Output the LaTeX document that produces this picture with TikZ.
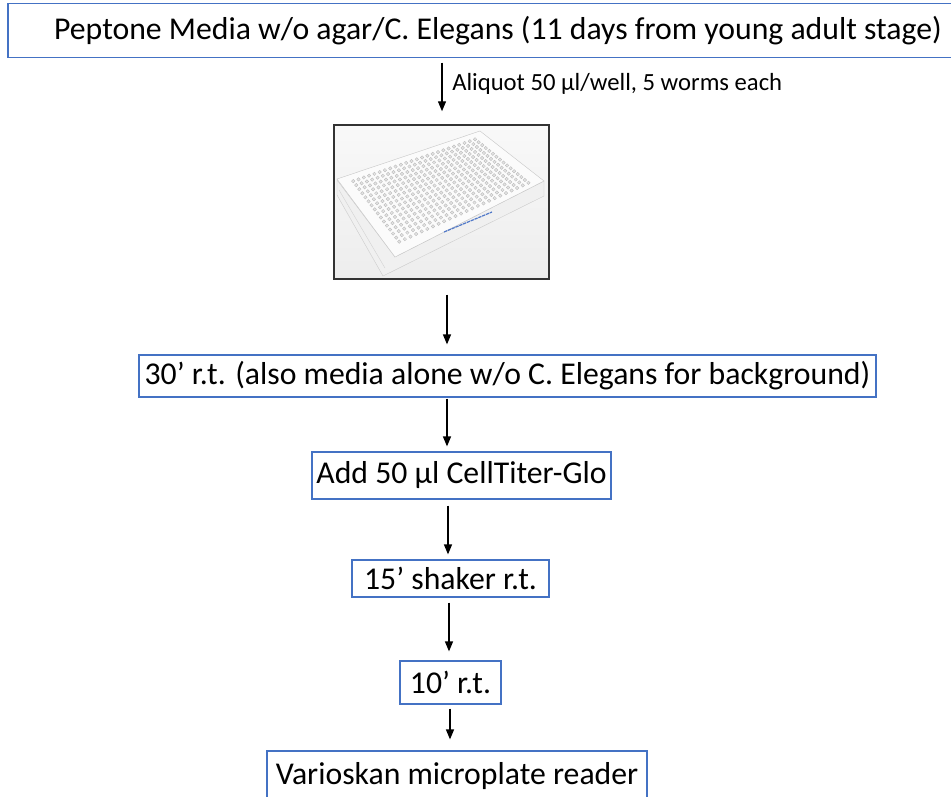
\documentclass[tikz,border=0pt]{standalone}
\usepackage{fontspec}
\setmainfont{Carlito}
\usetikzlibrary{arrows.meta}
\definecolor{boxblue}{RGB}{68,114,196}
\definecolor{labelblue}{RGB}{80,120,200}
\begin{document}
\begin{tikzpicture}[x=0.75pt,y=-0.75pt,
  flow/.style={draw=boxblue, line width=0.9pt, inner sep=0pt, text=black,
    font=\fontsize{23.8}{28}\selectfont},
  arr/.style={-{Triangle[length=7.5pt,width=6pt]}, line width=1pt, black},
  well/.style={fill=gray!22, draw=gray!55, line width=0.25pt}]
\useasboundingbox (0,0) rectangle (951,797);
\begin{scope}
\clip (0,0) rectangle (951,797);
% top box
\node[flow, minimum width=980*0.75pt, minimum height=54*0.75pt] (top) at (498,30.5)
  {Peptone Media w/o agar/C. Elegans (11 days from young adult stage)};
\node[anchor=base west, inner sep=0pt, font=\fontsize{18.5}{22}\selectfont] (lab) at (452,90)
  {Aliquot 50 µl/well, 5 worms each};
% plate picture
\fill[top color=gray!5, bottom color=gray!14] (334,125) rectangle (549,279);
\fill[gray!12, draw=gray!40, line width=0.3pt] (337,180) -- (337,195) -- (383,276) -- (544,196) -- (544,181) -- (395,257) -- cycle;
\draw[gray!35, line width=0.3pt] (339,190) -- (385,268);
\fill[gray!3, draw=gray!45, line width=0.3pt] (337,179) -- (480,131) -- (544,181) -- (395,257) -- cycle;
\foreach \i in {0,...,23}{\foreach \j in {0,...,15}{
  \pgfmathsetmacro\u{(\i+0.5)/24}
  \pgfmathsetmacro\v{(\j+0.5)/16}
  \pgfmathsetmacro\wx{(1-\u)*(1-\v)*349+\u*(1-\v)*476+(1-\u)*\v*398+\u*\v*533}
  \pgfmathsetmacro\wy{(1-\u)*(1-\v)*180+\u*(1-\v)*137+(1-\u)*\v*245+\u*\v*183}
  \fill[well] (\wx,\wy) circle[radius=1.3pt];
}}
\draw[labelblue, line width=0.9pt, dash pattern=on 2.5pt off 0.6pt] (444,232) -- (492,212);
\node[draw=black!80, line width=1.1pt, minimum width=215*0.75pt, minimum height=154*0.75pt, inner sep=0pt] (img) at (441.5,202) {};
% steps
\node[flow, minimum width=737*0.75pt, minimum height=42*0.75pt] (s30) at (507.5,376)
  {30’ r.t. (also media alone w/o C. Elegans for background)};
\node[flow, minimum width=299*0.75pt, minimum height=47*0.75pt] (add) at (461.5,475.5)
  {Add 50 µl CellTiter-Glo};
\node[flow, minimum width=197*0.75pt, minimum height=37*0.75pt] (s15) at (450.5,578.5)
  {15’ shaker r.t.};
\node[flow, minimum width=101*0.75pt, minimum height=43*0.75pt] (s10) at (450.5,682.5)
  {10’ r.t.};
\node[flow, minimum width=380*0.75pt, minimum height=50*0.75pt] (var) at (457,776)
  {Varioskan microplate reader};
% arrows
\coordinate (a1) at (442,0);
\coordinate (a2) at (447,0);
\coordinate (a3) at (447,0);
\coordinate (a4) at (448,0);
\coordinate (a5) at (449,0);
\coordinate (a6) at (450,0);
\draw[arr, shorten <=4.5*0.75pt, shorten >=13*0.75pt] (top.south -| a1) -- (img.north -| a1);
\draw[arr, shorten <=15*0.75pt, shorten >=10*0.75pt] (img.south -| a2) -- (s30.north -| a2);
\draw[arr, shorten <=1*0.75pt, shorten >=5*0.75pt] (s30.south -| a3) -- (add.north -| a3);
\draw[arr, shorten <=6*0.75pt, shorten >=5*0.75pt] (add.south -| a4) -- (s15.north -| a4);
\draw[arr, shorten <=5*0.75pt, shorten >=9*0.75pt] (s15.south -| a5) -- (s10.north -| a5);
\draw[arr, shorten <=4*0.75pt, shorten >=11*0.75pt] (s10.south -| a6) -- (var.north -| a6);
\end{scope}
\end{tikzpicture}
\end{document}
